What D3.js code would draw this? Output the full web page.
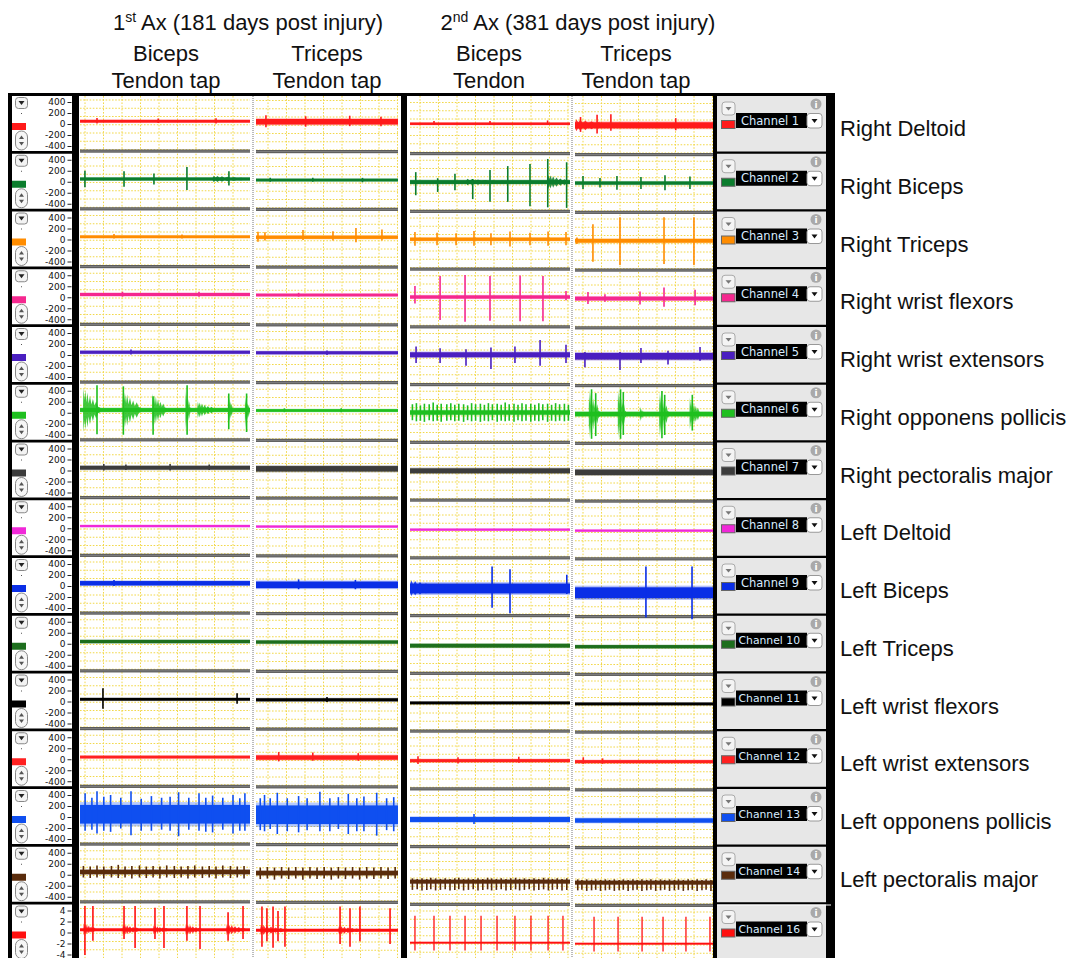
<!DOCTYPE html>
<html>
<head>
<meta charset="utf-8">
<script src="https://cdn.jsdelivr.net/npm/d3@7"></script>
<style>
  body { margin: 0; background: #fff; }
  svg { display: block; }
</style>
</head>
<body>
<svg id="fig"></svg>
<script>
// ---- data ----
const channelNames = ["Channel 1", "Channel 2", "Channel 3", "Channel 4", "Channel 5", "Channel 6", "Channel 7",
  "Channel 8", "Channel 9", "Channel 10", "Channel 11", "Channel 12", "Channel 13", "Channel 14", "Channel 16"];
const muscleNames = ["Right Deltoid", "Right Biceps", "Right Triceps", "Right wrist flexors", "Right wrist extensors",
  "Right opponens pollicis", "Right pectoralis major", "Left Deltoid", "Left Biceps", "Left Triceps",
  "Left wrist flexors", "Left wrist extensors", "Left opponens pollicis", "Left pectoralis major"];
const traceColors = ["#ff1a1a", "#0b7d2d", "#ff8c00", "#f5288f", "#4a1fc0", "#1fbf1f", "#3c3c3c",
  "#f028d8", "#0a2ee6", "#1d6e1d", "#000000", "#ff2020", "#0f4ff0", "#5a2c0c", "#ff1010"];
const headTitles = ["Ax (181 days post injury)", "Ax (381 days post injury)"];
const headOrdinals = [["1", "st"], ["2", "nd"]];
const headMuscle = ["Biceps", "Triceps", "Biceps", "Triceps"];
const headManoeuvre = ["Tendon tap", "Tendon tap", "Tendon", "Tendon tap"];
const yTicksUV = [400, 200, 0, -200, -400];
const yTicksCh16 = [4, 2, 0, -2, -4];

// half width of the resting noise band (µV; channel 16 in its own units), per panel A B C D
const noiseLevel = [
  [25, 50, 22, 55], [28, 25, 35, 30], [25, 30, 30, 35], [28, 25, 30, 35], [28, 28, 45, 60],
  [35, 25, 40, 40], [35, 50, 45, 50], [20, 20, 20, 20], [40, 60, 90, 100], [30, 30, 35, 30],
  [25, 28, 25, 25], [25, 40, 28, 28], [170, 170, 45, 40], [40, 40, 35, 35], [0.25, 0.25, 0.03, 0.03]];
// trace centre line offset from 0
const baseline = [
  [50, 50, 50, 40], [50, 40, 40, 40], [50, 50, 50, 40], [50, 50, 50, 40], [50, 50, 50, 40],
  [50, 50, 50, 40], [50, 40, 40, 30], [40, 40, 20, 20], [50, 30, 0, -60], [40, 40, 10, 10],
  [40, 40, 20, 20], [40, 40, 20, 20], [50, 50, 0, 0], [50, 40, -80, -80], [0.5, 0.5, -1.4, -1.4]];

// spikes: [time s, top, bottom] relative to the centre line
const spikes = [
  [[[1.0, 60, -40], [4.6, 50, -30], [8.0, 55, -40]],
   [[0.7, 120, -100], [3.5, 100, -90], [6.6, 110, -80], [8.8, 90, -80]],
   [[1.5, 50, -20], [5.0, 50, -20], [8.6, 60, -20]],
   [[0.4, 150, -120], [1.6, 190, -150], [2.6, 200, -100], [7.3, 130, -90]]],
  [[[0.29, 150, -150], [2.59, 140, -140], [4.35, 100, -100], [6.29, 220, -200], [8.76, 140, -120]],
   [[1.0, 40, -30], [4.0, 40, -30], [7.5, 40, -40]],
   [[0.36, 180, -240], [1.73, 70, -180], [2.81, 150, -150], [3.92, 55, -310], [5.0, 220, -360], [6.11, 290, -360],
    [7.5, 330, -440], [8.61, 420, -460], [9.79, 360, -470]],
   [[0.58, 130, -110], [1.81, 90, -80], [3.04, 130, -120], [4.78, 110, -110], [6.52, 140, -130], [8.33, 120, -110]]],
  [[[2.0, 50, -30], [6.0, 40, -30]],
   [[0.14, 100, -80], [0.63, 90, -60], [3.31, 130, -50], [5.42, 110, -60], [7.04, 170, -90], [8.87, 140, -60]],
   [[0.31, 130, -120], [1.69, 120, -110], [2.88, 110, -110], [4.0, 150, -120], [5.06, 110, -110], [6.25, 140, -130],
    [7.5, 120, -110], [8.63, 140, -120], [9.75, 130, -110]],
   [[0.14, 60, -60], [1.3, 300, -380], [3.26, 430, -440], [6.45, 430, -420], [8.62, 430, -440]]],
  [[[2.5, 50, -40], [7.0, 50, -40]],
   [[3.0, 40, -30]],
   [[0.31, 200, -120], [1.88, 380, -420], [3.44, 400, -450], [5.0, 380, -430], [6.88, 390, -440], [8.31, 380, -440], [9.75, 110, -60]],
   [[0.94, 120, -100], [2.17, 80, -60], [4.71, 130, -110], [6.45, 200, -150], [8.7, 160, -120]]],
  [[[3.0, 50, -40]],
   [[5.0, 40, -40]],
   [[0.38, 150, -150], [1.88, 120, -150], [3.5, 100, -200], [5.06, 130, -260], [6.56, 150, -150], [8.13, 270, -200], [9.75, 180, -150]],
   [[0.72, 80, -200], [3.26, 80, -250], [4.78, 150, -120], [6.74, 100, -150], [9.06, 170, -80]]],
  [[[1.0, 450, -440], [2.55, 430, -450], [4.3, 250, -450], [6.3, 450, -450], [8.75, 300, -350], [9.8, 300, -400]],
   [[2.0, 40, -30], [6.0, 40, -30]],
   [[0.15, 150, -140], [0.4, 170, -160], [0.65, 130, -150], [0.9, 160, -170], [1.2, 150, -140], [1.45, 180, -160],
    [1.7, 140, -150], [1.95, 160, -170], [2.3, 150, -150], [2.55, 170, -140], [2.8, 140, -160], [3.05, 160, -150],
    [3.35, 150, -170], [3.6, 130, -140], [3.85, 170, -160], [4.1, 150, -150], [4.4, 160, -170], [4.65, 140, -150],
    [4.9, 170, -160], [5.15, 150, -140], [5.45, 160, -170], [5.7, 140, -150], [5.95, 180, -160], [6.2, 150, -150],
    [6.5, 160, -170], [6.75, 140, -140], [7.0, 170, -160], [7.25, 150, -150], [7.55, 160, -170], [7.8, 140, -150],
    [8.05, 170, -160], [8.3, 150, -140], [8.6, 160, -170], [8.85, 140, -150], [9.1, 170, -160], [9.35, 150, -150],
    [9.65, 160, -160], [9.9, 140, -150]],
   [[1.2, 450, -450], [1.5, 380, -400], [3.3, 450, -450], [3.5, 400, -380], [6.3, 420, -440], [6.5, 350, -380], [8.5, 350, -300]]],
  [[[1.4, 70, -50], [2.7, 60, -40], [5.3, 70, -50], [7.6, 60, -40]], [], [], []],
  [[], [], [], []],
  [[[2.0, 60, -50]],
   [[3.0, 100, -80], [7.0, 90, -80]],
   [[5.13, 400, -350], [6.25, 350, -450], [9.8, 250, -100]],
   [[5.14, 480, -450], [8.48, 480, -480]]],
  [[], [], [], []],
  [[[1.35, 200, -170], [9.24, 110, -80]], [[5.0, 50, -40]], [], []],
  [[], [[1.6, 100, -70], [4.0, 90, -60], [7.2, 80, -60]],
   [[0.5, 80, -60], [3.0, 60, -50], [6.8, 70, -40]], [[0.6, 80, -40], [2.0, 60, -40]]],
  [[[0.3, 380, -300], [0.7, 300, -280], [1.0, 420, -350], [1.4, 320, -300], [1.8, 350, -320], [2.4, 300, -260],
    [3.0, 420, -380], [3.6, 280, -300], [4.2, 330, -300], [4.8, 300, -280], [5.3, 320, -300], [5.8, 400, -400],
    [6.4, 300, -280], [7.0, 380, -300], [7.4, 300, -320], [7.8, 340, -330], [8.4, 300, -280], [9.0, 350, -350],
    [9.4, 290, -300], [9.7, 380, -300]],
   [[0.3, 300, -280], [0.6, 360, -300], [1.0, 300, -260], [1.5, 400, -350], [2.2, 300, -300], [3.0, 340, -320],
    [3.6, 300, -280], [4.5, 420, -300], [5.2, 300, -300], [5.8, 320, -260], [6.5, 380, -350], [7.1, 300, -300],
    [7.6, 330, -300], [8.5, 400, -380], [9.2, 300, -280], [9.7, 320, -300]],
   [[4.0, 100, -80]], []],
  [[[0.2, 110, -100], [0.6, 100, -110], [1.0, 120, -100], [1.4, 100, -120], [1.85, 110, -100], [2.25, 130, -110],
    [2.65, 100, -100], [3.05, 110, -120], [3.5, 120, -100], [3.9, 100, -110], [4.3, 110, -100], [4.7, 100, -120],
    [5.1, 120, -100], [5.55, 110, -110], [5.95, 100, -100], [6.35, 110, -120], [6.75, 120, -100], [7.2, 100, -110],
    [7.6, 110, -100], [8.0, 100, -120], [8.4, 120, -100], [8.85, 110, -110], [9.25, 100, -100], [9.65, 110, -120]],
   [[0.3, 100, -110], [0.8, 110, -100], [1.3, 100, -120], [1.8, 110, -100], [2.3, 100, -110], [2.8, 110, -100],
    [3.3, 100, -120], [3.8, 110, -100], [4.3, 100, -110], [4.8, 110, -100], [5.3, 100, -120], [5.8, 110, -100],
    [6.3, 100, -110], [6.8, 110, -100], [7.3, 100, -120], [7.8, 110, -100], [8.3, 100, -110], [8.8, 110, -100],
    [9.3, 100, -110], [9.8, 110, -100]],
   [[0.15, 60, -150], [0.45, 50, -140], [0.75, 60, -160], [1.05, 50, -150], [1.3, 70, -140], [1.6, 60, -160],
    [1.9, 50, -150], [2.2, 60, -140], [2.5, 50, -160], [2.8, 60, -150], [3.05, 70, -140], [3.35, 50, -160],
    [3.65, 60, -150], [3.95, 50, -140], [4.25, 60, -160], [4.55, 50, -150], [4.85, 70, -140], [5.1, 60, -160],
    [5.4, 50, -150], [5.7, 60, -140], [6.0, 50, -160], [6.3, 60, -150], [6.6, 70, -140], [6.85, 50, -160],
    [7.15, 60, -150], [7.45, 50, -140], [7.75, 60, -160], [8.05, 50, -150], [8.35, 70, -140], [8.65, 60, -160],
    [8.9, 50, -150], [9.2, 60, -140], [9.5, 50, -160], [9.8, 60, -150]],
   [[0.2, 60, -140], [0.5, 50, -130], [0.85, 60, -150], [1.2, 50, -140], [1.5, 60, -130], [1.85, 50, -150],
    [2.2, 60, -140], [2.5, 50, -130], [2.85, 60, -150], [3.2, 50, -140], [3.5, 60, -130], [3.85, 50, -150],
    [4.2, 60, -140], [4.5, 50, -130], [4.85, 60, -150], [5.2, 50, -140], [5.5, 60, -130], [5.85, 50, -150],
    [6.2, 60, -140], [6.5, 50, -130], [6.85, 60, -150], [7.2, 50, -140], [7.5, 60, -130], [7.85, 50, -150],
    [8.2, 60, -140], [8.5, 50, -130], [8.85, 60, -150], [9.2, 50, -140], [9.5, 60, -130], [9.85, 50, -150]]],
  [[[0.29, 4.3, -4.6], [0.76, 4.3, -2.0], [2.59, 4.3, -1.7], [3.24, 4.3, -3.3], [4.41, 4.0, -1.7], [4.94, 4.3, -3.3],
    [6.29, 4.3, -2.0], [7.06, 4.3, -3.5], [8.71, 3.2, -2.0], [9.59, 4.3, -1.7]],
   [[0.42, 4.3, -3.0], [0.77, 4.0, -2.0], [1.2, 4.3, -3.2], [1.55, 3.5, -2.0], [2.04, 4.3, -3.0], [5.92, 4.3, -2.5],
    [6.62, 4.0, -3.0], [7.32, 4.3, -2.0], [9.44, 4.0, -2.5]],
   [[0.31, 4.9, -1.4], [1.5, 4.9, -1.4], [2.5, 4.9, -1.4], [3.44, 4.9, -1.4], [4.44, 4.9, -1.4], [5.44, 4.9, -1.4],
    [6.56, 4.9, -1.4], [7.56, 4.9, -1.4], [8.63, 4.9, -1.4], [9.56, 4.9, -1.4]],
   [[1.38, 4.9, -1.4], [3.12, 4.9, -1.4], [4.86, 4.9, -1.4], [6.38, 4.9, -1.4], [8.04, 4.9, -1.4], [9.78, 4.9, -1.4]]]
];

// bursts of activity: [start s, end s, top, bottom]
const bursts = [
  [[], [], [], [[0.0, 3.0, 110, -110]]],
  [[[7.8, 10, 60, -60]], [], [[3.5, 6.5, 60, -60], [8.6, 10, 130, -130]], []],
  [[], [], [], []],
  [[], [], [], []],
  [[], [], [], []],
  [[[0.18, 1.2, 400, -400], [2.5, 3.6, 350, -350], [4.25, 5.1, 300, -300], [6.2, 6.5, 400, -400],
    [6.9, 8.0, 150, -150], [8.7, 9.0, 300, -300], [9.7, 10, 250, -350]], [], [],
   [[1.0, 1.8, 440, -440], [3.1, 3.7, 440, -440], [4.7, 5.0, 150, -150], [6.1, 6.8, 400, -420], [8.3, 9.1, 300, -280]]],
  [[], [], [], []],
  [[], [], [], []],
  [[], [], [[0, 2.5, 150, -140]], []],
  [[], [], [], []],
  [[], [], [], []],
  [[], [], [], []],
  [[], [], [], []],
  [[], [], [], []],
  [[[0.2, 1.0, 1.2, -1.0], [2.5, 3.6, 1.0, -1.0], [4.3, 5.3, 0.8, -0.8], [6.2, 7.3, 1.0, -1.0], [8.6, 9.9, 1.0, -1.0]],
   [[0.3, 2.2, 1.0, -0.9], [5.8, 7.5, 0.8, -0.8]], [], []]
];

// ---- layout ----
const W = 1070, H = 958;
const rowStep = 57.75;
const rowTop = i => 96 + i * rowStep;
const panelX = [[80, 250], [256, 398], [410, 570], [575, 713]];
const panelDy = [0, 0.5, 2.5, 3.5];
const gridX0 = [85, 268, 420, 583];
const fontArial = "'Liberation Sans', Arial, sans-serif";
const fontUI = "'DejaVu Sans', 'Liberation Sans', sans-serif";

const svg = d3.select("#fig").attr("width", W).attr("height", H);

// ---- headers ----
const headCentres = [248, 578];
headTitles.forEach((t, k) => {
  const txt = svg.append("text").attr("x", headCentres[k]).attr("y", 30)
    .attr("text-anchor", "middle").style("font-family", fontArial).style("font-size", "22px").attr("fill", "#111");
  txt.append("tspan").text(headOrdinals[k][0]);
  txt.append("tspan").attr("dy", -8).style("font-size", "14px").text(headOrdinals[k][1]);
  txt.append("tspan").attr("dy", 8).text(" " + t);
});
const subCentres = [166, 327, 489, 636];
headMuscle.forEach((m, p) => {
  svg.append("text").attr("x", subCentres[p]).attr("y", 61).attr("text-anchor", "middle")
    .style("font-family", fontArial).style("font-size", "22px").attr("fill", "#111").text(m);
  svg.append("text").attr("x", subCentres[p]).attr("y", 88).attr("text-anchor", "middle")
    .style("font-family", fontArial).style("font-size", "22px").attr("fill", "#111").text(headManoeuvre[p]);
});

// ---- frame & backgrounds ----
svg.append("rect").attr("x", 8).attr("y", 93).attr("width", 827).attr("height", H - 93).attr("fill", "#000");
svg.append("rect").attr("x", 79).attr("y", 96).attr("width", 322).attr("height", H - 96).attr("fill", "#fff");
svg.append("rect").attr("x", 407).attr("y", 96).attr("width", 306).attr("height", H - 96).attr("fill", "#fff");

// grid
const grid = svg.append("g").attr("stroke", "#f2d84a").attr("stroke-width", 1).attr("stroke-dasharray", "1.6,1.6");
panelX.forEach(([x0, x1], p) => {
  d3.range(gridX0[p], x1 + 1, 18.5).forEach(x => {
    grid.append("line").attr("x1", x).attr("x2", x).attr("y1", 96).attr("y2", H);
  });
  d3.range(100 + panelDy[p], H, 8.25).forEach(y => {
    grid.append("line").attr("x1", x0).attr("x2", x1).attr("y1", y).attr("y2", y);
  });
});
// dotted panel separators
[253, 572].forEach(x => {
  svg.append("line").attr("x1", x).attr("x2", x).attr("y1", 96).attr("y2", H)
    .attr("stroke", "#777").attr("stroke-width", 1).attr("stroke-dasharray", "1,1");
});

// ---- rows ----
// ragged burst outline (fraction of burst duration, fraction of burst amplitude)
const envShape = [[0, 0.3], [0.03, 1], [0.08, 0.45], [0.13, 0.9], [0.19, 0.35], [0.25, 0.8], [0.32, 0.3],
  [0.4, 0.65], [0.48, 0.25], [0.57, 0.5], [0.66, 0.2], [0.76, 0.4], [0.87, 0.15], [1, 0.1]];

channelNames.forEach((name, i) => {
  const top = rowTop(i);
  const isCh16 = i === 14;
  const dom = isCh16 ? [-4, 4] : [-400, 400];
  const col = traceColors[i];

  // left control box
  const left = svg.append("g");
  left.append("rect").attr("x", 12).attr("y", top).attr("width", 60).attr("height", 55).attr("fill", "#fff");
  left.append("rect").attr("x", 15.5).attr("y", top + 1.5).attr("width", 12).attr("height", 11).attr("rx", 3)
    .attr("fill", "#f3f3f3").attr("stroke", "#888");
  left.append("path").attr("d", `M${18.5},${top + 5} l6,0 l-3,4 z`).attr("fill", "#222");
  left.append("rect").attr("x", 21).attr("y", top + 17).attr("width", 1).attr("height", 1).attr("fill", "#555");
  left.append("rect").attr("x", 12).attr("y", top + 27).attr("width", 14).attr("height", 7).attr("fill", col);
  left.append("rect").attr("x", 15.5).attr("y", top + 35).attr("width", 12).attr("height", 19).attr("rx", 6)
    .attr("fill", "#f6f6f6").attr("stroke", "#888");
  left.append("path").attr("d", `M${19},${top + 43} l5,0 l-2.5,-3.5 z`).attr("fill", "#555");
  left.append("path").attr("d", `M${19},${top + 46} l5,0 l-2.5,3.5 z`).attr("fill", "#555");

  const yAxisScale = d3.scaleLinear().domain(dom).range([top + 50, top + 6]);
  const axis = left.append("g").attr("transform", "translate(71.5,0)")
    .call(d3.axisLeft(yAxisScale).tickValues(isCh16 ? yTicksCh16 : yTicksUV).tickSize(4).tickPadding(2)
      .tickFormat(d => String(d)));
  axis.select(".domain").remove();
  axis.selectAll("line").attr("stroke", "#222");
  axis.selectAll("text").style("font-family", fontUI).style("font-size", "9px").attr("fill", "#111");

  // traces
  panelX.forEach(([x0, x1], p) => {
    const g = svg.append("g");
    const y = d3.scaleLinear().domain(dom).range([top + 50 + panelDy[p], top + 6 + panelDy[p]]);
    const x = d3.scaleLinear().domain([0, 10]).range([x0, x1]);
    const b = baseline[i][p];
    const n = noiseLevel[i][p];

    // bottom separator bar
    g.append("rect").attr("x", x0).attr("y", top + 53.5 + panelDy[p]).attr("width", x1 - x0).attr("height", 3.2)
      .attr("fill", "#5c5c5c");
    g.append("line").attr("x1", x0).attr("x2", x1).attr("y1", top + 55.1 + panelDy[p]).attr("y2", top + 55.1 + panelDy[p])
      .attr("stroke", "#9a9a9a").attr("stroke-width", 0.6);

    // noise band: faint outer fringe then solid core
    const outerH = Math.abs(y(b + n * 1.3) - y(b - n * 1.3));
    g.append("rect").attr("x", x0).attr("width", x1 - x0)
      .attr("y", y(b) - outerH / 2).attr("height", outerH).attr("fill", col).attr("opacity", 0.3);
    const coreH = Math.max(2, Math.abs(y(b + n) - y(b - n)));
    g.append("rect").attr("x", x0).attr("width", x1 - x0)
      .attr("y", y(b) - coreH / 2).attr("height", coreH).attr("fill", col);

    // bursts
    const area = d3.area().x(d => d[0]).y0(d => d[1]).y1(d => d[2]);
    bursts[i][p].forEach(([t0, t1, hi, lo]) => {
      const pts = envShape.map(([f, a]) => [x(t0 + f * (t1 - t0)), y(b + hi * a), y(b + lo * a)]);
      g.append("path").attr("d", area(pts)).attr("fill", col).attr("opacity", 0.85);
    });

    // spikes
    g.selectAll("line.spike").data(spikes[i][p]).join("line").attr("class", "spike")
      .attr("x1", d => x(d[0])).attr("x2", d => x(d[0]))
      .attr("y1", d => y(b + d[1])).attr("y2", d => y(b + d[2]))
      .attr("stroke", col).attr("stroke-width", isCh16 && p > 1 ? 1.3 : 1.6);
  });

  // channel selector box on the right
  const right = svg.append("g");
  right.append("rect").attr("x", 717).attr("y", top).attr("width", 109).attr("height", 55.5).attr("fill", "#e7e7e7");
  right.append("rect").attr("x", 722).attr("y", top + 6).attr("width", 13).attr("height", 13).attr("rx", 3)
    .attr("fill", "#f4f4f4").attr("stroke", "#aaa");
  right.append("path").attr("d", `M${725.5},${top + 11} l6,0 l-3,3.5 z`).attr("fill", "#777");
  right.append("rect").attr("x", 721.5).attr("y", top + 24.5).attr("width", 13.5).attr("height", 8)
    .attr("fill", col).attr("stroke", "#666").attr("stroke-width", 1);
  right.append("rect").attr("x", 736).attr("y", top + 17).attr("width", 71).attr("height", 15).attr("fill", "#000");
  right.append("text").attr("x", name.length > 9 ? 738.5 : 741).attr("y", top + 28.5)
    .style("font-family", fontUI).style("font-size", name.length > 9 ? "10.8px" : "11.5px")
    .attr("fill", "#d8ecff").text(name);
  right.append("rect").attr("x", 807).attr("y", top + 17.5).attr("width", 15).attr("height", 14.5).attr("rx", 3)
    .attr("fill", "#fff").attr("stroke", "#999");
  right.append("path").attr("d", `M${811.5},${top + 23} l6,0 l-3,4 z`).attr("fill", "#111");
  right.append("circle").attr("cx", 816).attr("cy", top + 8).attr("r", 5.5).attr("fill", "#a9a9a9");
  right.append("text").attr("x", 816).attr("y", top + 11.5).attr("text-anchor", "middle")
    .style("font-family", fontUI).style("font-size", "9px").style("font-weight", "bold").attr("fill", "#fff").text("i");

  if (i < muscleNames.length) {
    svg.append("text").attr("x", 840).attr("y", top + 40).style("font-family", fontArial).style("font-size", "22px")
      .attr("fill", "#111").text(muscleNames[i]);
  }
});
// white edge above the last channel box
svg.append("line").attr("x1", 717).attr("x2", 831).attr("y1", rowTop(14) + 0.5).attr("y2", rowTop(14) + 0.5)
  .attr("stroke", "#fff").attr("stroke-width", 1.2);
</script>
</body>
</html>
